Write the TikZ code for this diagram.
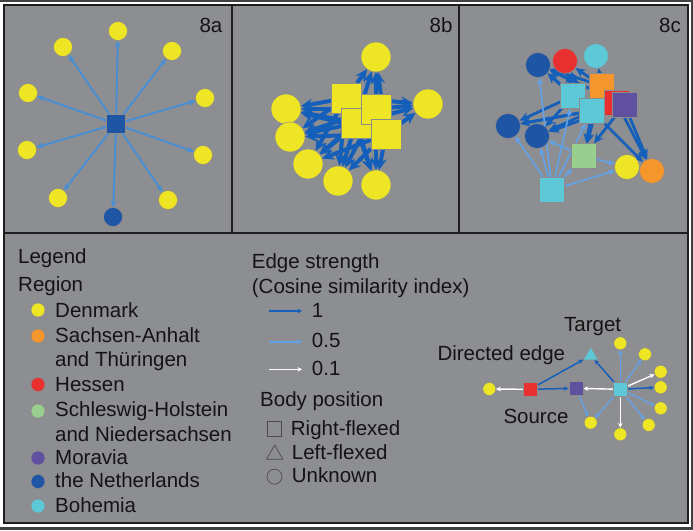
\documentclass[tikz,border=0pt]{standalone}
\usepackage{fontspec}
\setmainfont{Liberation Sans}
\usetikzlibrary{arrows.meta,shapes.geometric}
\pgfdeclarelayer{back}
\pgfdeclarelayer{edges}
\pgfsetlayers{back,edges,main}
\definecolor{bggray}{RGB}{141,142,146}
\definecolor{yel}{RGB}{238,230,36}
\definecolor{dblue}{RGB}{30,85,165}
\definecolor{orng}{RGB}{245,150,45}
\definecolor{rd}{RGB}{232,48,48}
\definecolor{grn}{RGB}{152,206,142}
\definecolor{purp}{RGB}{95,80,160}
\definecolor{cyn}{RGB}{92,200,216}
\definecolor{mblue}{RGB}{72,142,212}
\definecolor{sblue}{RGB}{20,95,185}
\definecolor{lblue}{RGB}{98,162,232}
\definecolor{frame}{RGB}{30,30,32}
\begin{document}
\begin{tikzpicture}[x=1pt,y=-1pt,
  lbl/.style={font=\fontsize{20.5}{24}\selectfont, inner sep=0pt, text=black!92},
  nd/.style={inner sep=0pt, outer sep=0pt, draw=black!45, line width=0.5pt},
  yc/.style={nd, circle, fill=yel},
  cc/.style={nd, circle},
  sq/.style={nd, rectangle},
  e8a/.style={draw=mblue, line width=1.9pt, -{Stealth[length=7pt,width=6pt]}},
  e8b/.style={draw=sblue, line width=4pt, -{Stealth[length=12pt,width=11pt]}},
  e8cs/.style={draw=sblue, line width=2.8pt, -{Stealth[length=10pt,width=9pt]}},
  e8cl/.style={draw=lblue, line width=1.6pt, -{Stealth[length=7pt,width=6pt]}},
  eks/.style={draw=sblue, line width=1.5pt, -{Stealth[length=5pt,width=4.5pt]}},
  ekl/.style={draw=lblue, line width=1.3pt, -{Stealth[length=5pt,width=4.5pt]}},
  ekw/.style={draw=white, line width=1.4pt, -{Stealth[length=5pt,width=4.5pt]}},
  sym/.style={draw=black!70, line width=0.7pt, fill=none, inner sep=0pt}
]
\useasboundingbox (0,0) rectangle (693,530);
\begin{pgfonlayer}{back}
\fill[white] (0,0) rectangle (693,530);
\draw[line width=2pt, black!75] (0,1) -- (693,1);
\draw[line width=3pt, black!75] (0,528.5) -- (693,528.5);
\draw[line width=1.5pt, black!75] (691.8,0) -- (691.8,530);
\filldraw[fill=bggray, draw=frame, line width=2pt] (4,5) rectangle (688,523);
\draw[line width=2pt, frame] (4,233) -- (688,233);
\draw[line width=2pt, frame] (232,5) -- (232,233);
\draw[line width=2.5pt, frame] (459,5) -- (459,233);
\end{pgfonlayer}

% panel labels
\node[lbl] (l8a) at (211,25) {8a};
\node[lbl] (l8b) at (441,25) {8b};
\node[lbl] (l8c) at (670,25) {8c};

% ---------- 8a ----------
\node[sq, fill=dblue, minimum size=19pt] (a0) at (116,124) {};
\node[yc, minimum size=19pt] (a1) at (118,31) {};
\node[yc, minimum size=19pt] (a2) at (63,47) {};
\node[yc, minimum size=19pt] (a3) at (172,51) {};
\node[yc, minimum size=19pt] (a4) at (28,93) {};
\node[yc, minimum size=19pt] (a5) at (205,98) {};
\node[yc, minimum size=19pt] (a6) at (27,150) {};
\node[yc, minimum size=19pt] (a7) at (203,155) {};
\node[yc, minimum size=19pt] (a8) at (58,198) {};
\node[yc, minimum size=19pt] (a9) at (168,200) {};
\node[cc, fill=dblue, minimum size=19pt] (a10) at (113,217) {};
\begin{pgfonlayer}{edges}
\foreach \i in {1,...,10} \draw[e8a] (a0) -- (a\i);
\end{pgfonlayer}

% ---------- 8b ----------
\node[yc, minimum size=30pt] (bc1) at (376,57) {};
\node[yc, minimum size=30pt] (bc2) at (428,104) {};
\node[yc, minimum size=30pt] (bc3) at (286,109) {};
\node[yc, minimum size=30pt] (bc4) at (290,137) {};
\node[yc, minimum size=30pt] (bc5) at (308,164) {};
\node[yc, minimum size=30pt] (bc6) at (338,181) {};
\node[yc, minimum size=30pt] (bc7) at (376,185) {};
\node[sq, fill=yel, minimum size=30pt] (bs1) at (346,98) {};
\node[sq, fill=yel, minimum size=30pt] (bs2) at (356,123) {};
\node[sq, fill=yel, minimum size=30pt] (bs3) at (376,109) {};
\node[sq, fill=yel, minimum size=30pt] (bs4) at (386,134) {};
\begin{pgfonlayer}{edges}
\foreach \j in {1,...,4}
  \foreach \i in {1,...,7}
    \draw[e8b] (bs\j) -- (bc\i);
\end{pgfonlayer}

% ---------- 8c ----------
\node[cc, fill=dblue, minimum size=25pt] (c1) at (538,65) {};
\node[cc, fill=rd, minimum size=25pt] (c2) at (565,61) {};
\node[cc, fill=cyn, minimum size=25pt] (c3) at (596,56) {};
\node[cc, fill=dblue, minimum size=25pt] (c4) at (508,126) {};
\node[cc, fill=dblue, minimum size=25pt] (c5) at (537,136) {};
\node[yc, minimum size=25pt] (c6) at (627,167) {};
\node[cc, fill=orng, minimum size=25pt] (c7) at (652,171) {};
\node[sq, fill=cyn, minimum size=25pt] (s1) at (573,96) {};
\node[sq, fill=orng, minimum size=25pt] (s2) at (602,86) {};
\node[sq, fill=cyn, minimum size=25pt] (s3) at (592,111) {};
\node[sq, fill=rd, minimum size=25pt] (s4) at (617,103) {};
\node[sq, fill=purp, minimum size=25pt] (s5) at (624.5,104.5) {};
\node[sq, fill=grn, minimum size=25pt] (s6) at (584,156) {};
\node[sq, fill=cyn, minimum size=25pt] (s7) at (552,190) {};
\begin{pgfonlayer}{edges}
\foreach \a/\b in {s1/c1,s1/c2,s1/c4,s1/c5,s2/c1,s2/c2,s2/c3,s3/c1,s3/c2,s3/c4,s3/c5,
                   s5/c4,s5/c5,s5/c7,s4/c7,s3/c7,s5/c1,s3/s6,s5/s6,s2/s6}
  \draw[e8cs] (\a) -- (\b);
\foreach \a/\b in {s7/c4,s7/c5,s7/c1,s7/s1,s7/s3,s7/s6,s7/c6,s6/c5,s6/c6}
  \draw[e8cl] (\a) -- (\b);
\end{pgfonlayer}

% ---------- Legend: regions ----------
\node[lbl, anchor=base west] (tleg) at (18,263.3) {Legend};
\node[lbl, anchor=base west] (treg) at (18,291) {Region};
\node[yc, minimum size=14pt] (d1) at (38,310) {};
\node[lbl, anchor=base west] (r1) at (55,317) {Denmark};
\node[cc, fill=orng, minimum size=14pt] (d2) at (38,336) {};
\node[lbl, anchor=base west] (r2) at (55,342.7) {Sachsen-Anhalt};
\node[lbl, anchor=base west] (r2b) at (55,366.7) {and Thüringen};
\node[cc, fill=rd, minimum size=14pt] (d3) at (38,384.5) {};
\node[lbl, anchor=base west] (r3) at (55,391) {Hessen};
\node[cc, fill=grn, minimum size=14pt] (d4) at (38,411) {};
\node[lbl, anchor=base west] (r4) at (55,416.7) {Schleswig-Holstein};
\node[lbl, anchor=base west] (r4b) at (55,441) {and Niedersachsen};
\node[cc, fill=purp, minimum size=14pt] (d5) at (38,458) {};
\node[lbl, anchor=base west] (r5) at (55,464.3) {Moravia};
\node[cc, fill=dblue, minimum size=14pt] (d6) at (38,481.5) {};
\node[lbl, anchor=base west] (r6) at (55,487.7) {the Netherlands};
\node[cc, fill=cyn, minimum size=14pt] (d7) at (38,506) {};
\node[lbl, anchor=base west] (r7) at (55,512.3) {Bohemia};

% ---------- Legend: edge strength ----------
\node[lbl, anchor=base west] (tes) at (251.7,268.3) {Edge strength};
\node[lbl, anchor=base west] (tcs) at (251.7,293.3) {(Cosine similarity index)};
\coordinate (k1a) at (269.3,311); \coordinate (k1b) at (302,311);
\coordinate (k2a) at (269.3,341.7); \coordinate (k2b) at (302,341.7);
\coordinate (k3a) at (269.3,369.3); \coordinate (k3b) at (302,369.3);
\draw[draw=sblue, line width=1.6pt, -{Stealth[length=4.5pt,width=4.5pt]}] (k1a) -- (k1b);
\draw[draw=lblue, line width=1.6pt, -{Stealth[length=4.5pt,width=4.5pt]}] (k2a) -- (k2b);
\draw[draw=white, line width=1.6pt, -{Stealth[length=4.5pt,width=4.5pt]}] (k3a) -- (k3b);
\node[lbl, anchor=base west] (v1) at (311.7,317.3) {1};
\node[lbl, anchor=base west] (v2) at (311.7,347.3) {0.5};
\node[lbl, anchor=base west] (v3) at (311.7,375) {0.1};

% ---------- Legend: body position ----------
\node[lbl, anchor=base west] (tbp) at (260,406.7) {Body position};
\node[sym, rectangle, minimum size=14.5pt] (p1) at (274.5,429) {};
\node[sym, regular polygon, regular polygon sides=3, minimum size=19pt] (p2) at (274.7,454.5) {};
\node[sym, circle, minimum size=15pt] (p3) at (274.5,476.7) {};
\node[lbl, anchor=base west] (b1) at (290.7,435) {Right-flexed};
\node[lbl, anchor=base west] (b2) at (291.7,459) {Left-flexed};
\node[lbl, anchor=base west] (b3) at (291.7,482.3) {Unknown};

% ---------- Legend: example ----------
\node[lbl, anchor=base west] (tt) at (564,331.7) {Target};
\node[lbl, anchor=base west] (td) at (437.3,360) {Directed edge};
\node[lbl, anchor=base west] (ts) at (503.3,423.3) {Source};
\node[yc, minimum size=13pt] (x0) at (489.3,389) {};
\node[sq, fill=rd, minimum size=14.5pt] (xr) at (530,389.3) {};
\node[sq, fill=purp, minimum size=14.5pt] (xp) at (576,388.3) {};
\node[sq, fill=cyn, minimum size=14pt] (xc) at (620.3,389.3) {};
\node[nd, regular polygon, regular polygon sides=3, fill=cyn, minimum size=17pt] (xt) at (590.7,355.5) {};
\node[yc, minimum size=13pt] (y1) at (620.3,343.3) {};
\node[yc, minimum size=13pt] (y2) at (645,354.3) {};
\node[yc, minimum size=13pt] (y3) at (660.7,371.7) {};
\node[yc, minimum size=13pt] (y4) at (660.7,387.3) {};
\node[yc, minimum size=13pt] (y5) at (660.7,408.3) {};
\node[yc, minimum size=13pt] (y6) at (648.7,425) {};
\node[yc, minimum size=13pt] (y7) at (620.3,434.3) {};
\node[yc, minimum size=13pt] (y8) at (590.7,422.7) {};
\begin{pgfonlayer}{edges}
\draw[ekw] (xr) -- (x0);
\draw[eks] (xr) -- (xp);
\draw[eks] (xr) -- (xt);
\draw[eks] (xc) -- (xt);
\draw[ekw] (xc) -- (xp);
\draw[ekl] (xp) -- (y8);
\draw[ekl] (xc) -- (y8);
\draw[ekl] (xc) -- (y1);
\draw[ekl] (xc) -- (y2);
\draw[ekw] (xc) -- (y3);
\draw[eks] (xc) -- (y4);
\draw[ekl] (xc) -- (y5);
\draw[ekl] (xc) -- (y6);
\draw[ekw] (xc) -- (y7);
\end{pgfonlayer}
\end{tikzpicture}
\end{document}
